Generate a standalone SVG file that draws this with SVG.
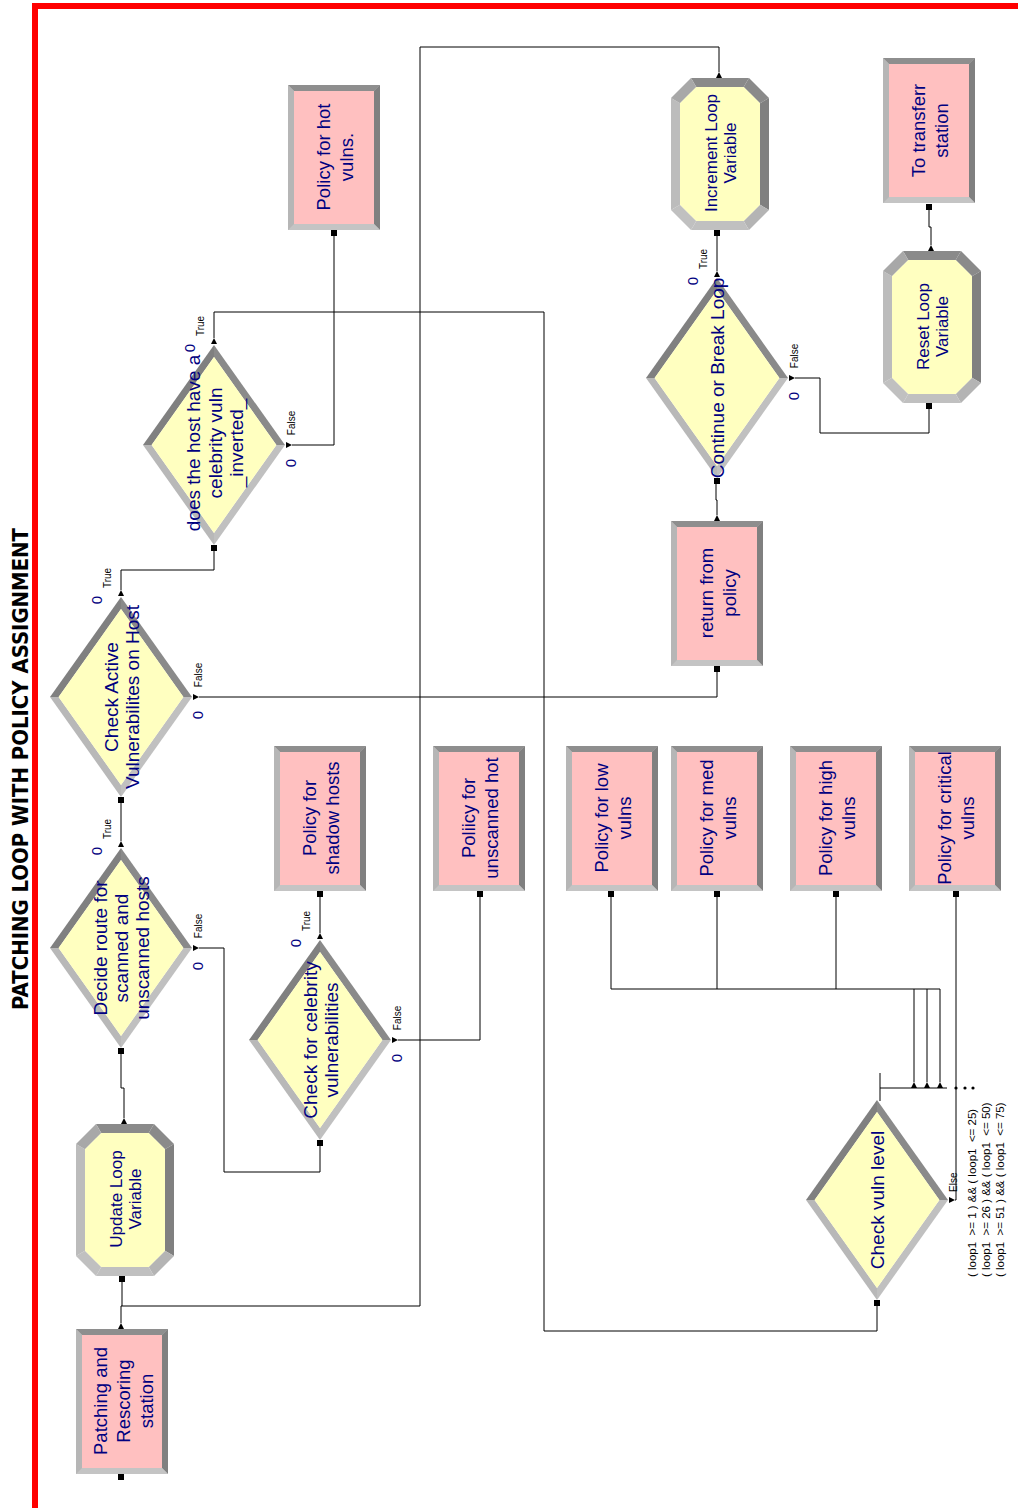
<svg xmlns="http://www.w3.org/2000/svg" width="1018" height="1508" viewBox="0 0 1018 1508">
<style>
.t{font-family:"Liberation Sans",Arial,sans-serif;fill:#000080;text-anchor:middle}
.r{font-size:18.5px}
.d{font-size:19px}
.o{font-size:17px}
.s{font-family:"Liberation Sans",Arial,sans-serif;font-size:10px;fill:#000;text-anchor:middle}
.z{font-family:"Liberation Sans",Arial,sans-serif;font-size:15px;fill:#000080;text-anchor:middle}
.c{font-family:"Liberation Sans",Arial,sans-serif;font-size:11.5px;fill:#000;text-anchor:start;white-space:pre}
.conn path{fill:none;stroke:#000;stroke-width:1}
.title{font-family:"DejaVu Sans",Verdana,sans-serif;font-weight:bold;font-size:21px;fill:#000;text-anchor:middle}
</style>
<defs>
<g id="rect">
<rect x="0" y="0" width="92" height="145" fill="#c0c0c0"/>
<polygon points="0,0 92,0 86,6 6,6" fill="#8e8e8e"/>
<polygon points="92,0 92,145 86,139 86,6" fill="#808080"/>
<polygon points="0,145 92,145 86,139 6,139" fill="#c4c4c4"/>
<polygon points="0,0 0,145 6,139 6,6" fill="#b6b6b6"/>
<rect x="6" y="6" width="80" height="133" fill="#ffc0c0"/>
</g>
<g id="oct">
<polygon points="20,0 78,0 72.7,9 25.3,9" fill="#8a8a8a"/>
<polygon points="78,0 98,20 89,25.3 72.7,9" fill="#8a8a8a"/>
<polygon points="98,20 98,132 89,126.7 89,25.3" fill="#808080"/>
<polygon points="98,132 78,152 72.7,143 89,126.7" fill="#b4b4b4"/>
<polygon points="78,152 20,152 25.3,143 72.7,143" fill="#c0c0c0"/>
<polygon points="20,152 0,132 9,126.7 25.3,143" fill="#c0c0c0"/>
<polygon points="0,132 0,20 9,25.3 9,126.7" fill="#bcbcbc"/>
<polygon points="0,20 20,0 25.3,9 9,25.3" fill="#a8a8a8"/>
<polygon points="25.3,9 72.7,9 89,25.3 89,126.7 72.7,143 25.3,143 9,126.7 9,25.3" fill="#ffffc0"/>
</g>
<g id="dia">
<polygon points="-71,0 0,-100 0,-87.9 -62.4,0" fill="#808080"/>
<polygon points="0,-100 71,0 62.4,0 0,-87.9" fill="#8a8a8a"/>
<polygon points="71,0 0,100 0,87.9 62.4,0" fill="#c0c0c0"/>
<polygon points="0,100 -71,0 -62.4,0 0,87.9" fill="#b8b8b8"/>
<polygon points="0,-87.9 62.4,0 0,87.9 -62.4,0" fill="#ffffc0"/>
</g>
<polygon id="tu" points="-3,0 3,0 0,-6" fill="#000"/>
<polygon id="tr" points="0,-3 0,3 6,0" fill="#000"/>
<rect id="sq" x="-3" y="-3" width="6" height="6" fill="#000"/>
</defs>

<path d="M35,1508 V6 H1018" fill="none" stroke="#ff0000" stroke-width="6"/>
<text class="title" transform="translate(28,769) rotate(-90)" textLength="482" lengthAdjust="spacingAndGlyphs">PATCHING LOOP WITH POLICY ASSIGNMENT</text>

<g class="conn" id="connectors">
<path d="M121,1323 V1306 H122 V1282"/>
<path d="M122,1306 H420 V47 H719 V72"/>
<path d="M124,1118 V1088 H121 V1054"/>
<path d="M121,841 V803"/>
<path d="M121,590 V570 H214 V551"/>
<path d="M199,697 H717 V672"/>
<path d="M199,948 H224 V1172 H320 V1146"/>
<path d="M320,933 V897"/>
<path d="M398,1040 H480 V897"/>
<path d="M214,338 V312 H544 V1331 H877 V1306"/>
<path d="M292,445 H334 V236"/>
<path d="M717,515 V500 H716 V484"/>
<path d="M717,271 V236"/>
<path d="M795,378 H820 V433 H929 V409"/>
<path d="M931,245 V227 H929 V210"/>
<path d="M880,1073 V1101"/>
<path d="M880,1088 H947"/>
<path d="M914,1082 V989 M927,1082 V989 M940,1082 V989"/>
<path d="M611,989 H940"/>
<path d="M611,897 V989 M717,897 V989 M836,897 V989"/>
<path d="M955,1200 H956 V897"/>
<circle cx="956" cy="1088" r="1.6" fill="#000"/>
<circle cx="965" cy="1088" r="1.6" fill="#000"/>
<circle cx="973" cy="1088" r="1.6" fill="#000"/>
<use href="#tu" x="914" y="1088"/>
<use href="#tu" x="927" y="1088"/>
<use href="#tu" x="940" y="1088"/>
</g>

<g id="patching">
<use href="#rect" x="76" y="1329"/>
<use href="#tu" x="121" y="1329"/>
<use href="#sq" x="121" y="1477"/>
<text class="t r" transform="translate(107,1401) rotate(-90)"><tspan x="0">Patching and</tspan><tspan x="0" dy="23">Rescoring</tspan><tspan x="0" dy="23">station</tspan></text>
</g>

<g id="update">
<use href="#oct" x="76" y="1124"/>
<use href="#tu" x="124" y="1124"/>
<use href="#sq" x="122" y="1279"/>
<text class="t o" transform="translate(122,1199) rotate(-90)"><tspan x="0">Update Loop</tspan><tspan x="0" dy="18.5">Variable</tspan></text>
</g>

<g id="decide-route">
<use href="#dia" x="121" y="948"/>
<use href="#tu" x="121" y="847"/>
<use href="#tr" x="193" y="948"/>
<use href="#sq" x="121" y="1051"/>
<text class="t d" transform="translate(107,948) rotate(-90)"><tspan x="0">Decide route for</tspan><tspan x="0" dy="21">scanned and</tspan><tspan x="0" dy="21">unscanned hosts</tspan></text>
<text class="s" transform="translate(111,829) rotate(-90)">True</text>
<text class="s" transform="translate(202,926) rotate(-90)">False</text>
<text class="z" transform="translate(102,851) rotate(-90)">0</text>
<text class="z" transform="translate(203,966) rotate(-90)">0</text>
</g>

<g id="check-active">
<use href="#dia" x="121" y="697"/>
<use href="#tu" x="121" y="596"/>
<use href="#tr" x="193" y="697"/>
<use href="#sq" x="121" y="800"/>
<text class="t d" transform="translate(117.5,697) rotate(-90)"><tspan x="0">Check Active</tspan><tspan x="0" dy="21">Vulnerabilites on Host</tspan></text>
<text class="s" transform="translate(111,578) rotate(-90)">True</text>
<text class="s" transform="translate(202,675) rotate(-90)">False</text>
<text class="z" transform="translate(102,600) rotate(-90)">0</text>
<text class="z" transform="translate(203,715) rotate(-90)">0</text>
</g>

<g id="does-host">
<use href="#dia" x="214" y="445"/>
<use href="#tu" x="214" y="344"/>
<use href="#tr" x="286" y="445"/>
<use href="#sq" x="214" y="548"/>
<text class="t d" transform="translate(200,443) rotate(-90)"><tspan x="0">does the host have a</tspan><tspan x="0" dy="21.5">celebrity vuln</tspan><tspan x="0" dy="21.5">_inverted_</tspan></text>
<text class="s" transform="translate(204,326) rotate(-90)">True</text>
<text class="s" transform="translate(295,423) rotate(-90)">False</text>
<text class="z" transform="translate(195,348) rotate(-90)">0</text>
<text class="z" transform="translate(296,463) rotate(-90)">0</text>
</g>

<g id="policy-hot">
<use href="#rect" x="288" y="85"/>
<use href="#sq" x="334" y="233"/>
<text class="t r" transform="translate(330,157) rotate(-90)"><tspan x="0">Policy for hot</tspan><tspan x="0" dy="23">vulns.</tspan></text>
</g>

<g id="check-celebrity">
<use href="#dia" x="320" y="1040"/>
<use href="#tu" x="320" y="939"/>
<use href="#tr" x="392" y="1040"/>
<use href="#sq" x="320" y="1143"/>
<text class="t d" transform="translate(316.5,1040) rotate(-90)"><tspan x="0">Check for celebrity</tspan><tspan x="0" dy="21">vulnerabilities</tspan></text>
<text class="s" transform="translate(310,921) rotate(-90)">True</text>
<text class="s" transform="translate(401,1018) rotate(-90)">False</text>
<text class="z" transform="translate(301,943) rotate(-90)">0</text>
<text class="z" transform="translate(402,1058) rotate(-90)">0</text>
</g>

<g id="policy-shadow">
<use href="#rect" x="274" y="746"/>
<use href="#sq" x="320" y="894"/>
<text class="t r" transform="translate(316,818) rotate(-90)"><tspan x="0">Policy for</tspan><tspan x="0" dy="23">shadow hosts</tspan></text>
</g>

<g id="policy-unscanned">
<use href="#rect" x="433" y="746"/>
<use href="#sq" x="480" y="894"/>
<text class="t r" transform="translate(475,818) rotate(-90)"><tspan x="0">Poliicy for</tspan><tspan x="0" dy="23">unscanned hot</tspan></text>
</g>

<g id="policy-low">
<use href="#rect" x="566" y="746"/>
<use href="#sq" x="611" y="894"/>
<text class="t r" transform="translate(608,818) rotate(-90)"><tspan x="0">Policy for low</tspan><tspan x="0" dy="23">vulns</tspan></text>
</g>

<g id="policy-med">
<use href="#rect" x="671" y="746"/>
<use href="#sq" x="717" y="894"/>
<text class="t r" transform="translate(713,818) rotate(-90)"><tspan x="0">Policy for med</tspan><tspan x="0" dy="23">vulns</tspan></text>
</g>

<g id="policy-high">
<use href="#rect" x="790" y="746"/>
<use href="#sq" x="836" y="894"/>
<text class="t r" transform="translate(832,818) rotate(-90)"><tspan x="0">Policy for high</tspan><tspan x="0" dy="23">vulns</tspan></text>
</g>

<g id="policy-critical">
<use href="#rect" x="909" y="746"/>
<use href="#sq" x="956" y="894"/>
<text class="t r" transform="translate(951,818) rotate(-90)"><tspan x="0">Policy for critical</tspan><tspan x="0" dy="23">vulns</tspan></text>
</g>

<g id="return-policy">
<use href="#rect" x="671" y="521"/>
<use href="#tu" x="717" y="521"/>
<use href="#sq" x="717" y="669"/>
<text class="t r" transform="translate(713,593) rotate(-90)"><tspan x="0">return from</tspan><tspan x="0" dy="23">policy</tspan></text>
</g>

<g id="continue-break">
<use href="#dia" x="717" y="378"/>
<use href="#tu" x="717" y="277"/>
<use href="#tr" x="789" y="378"/>
<use href="#sq" x="717" y="481"/>
<text class="t d" transform="translate(724,378) rotate(-90)">Continue or Break Loop</text>
<text class="s" transform="translate(707,259) rotate(-90)">True</text>
<text class="s" transform="translate(798,356) rotate(-90)">False</text>
<text class="z" transform="translate(698,281) rotate(-90)">0</text>
<text class="z" transform="translate(799,396) rotate(-90)">0</text>
</g>

<g id="increment">
<use href="#oct" x="671" y="78"/>
<use href="#tu" x="719" y="78"/>
<use href="#sq" x="717" y="233"/>
<text class="t o" transform="translate(717,153) rotate(-90)"><tspan x="0">Increment Loop</tspan><tspan x="0" dy="18.5">Variable</tspan></text>
</g>

<g id="to-transferr">
<use href="#rect" x="883" y="58"/>
<use href="#sq" x="929" y="207"/>
<text class="t r" transform="translate(925,130.5) rotate(-90)"><tspan x="0">To transferr</tspan><tspan x="0" dy="23">station</tspan></text>
</g>

<g id="reset">
<use href="#oct" x="883" y="251"/>
<use href="#tu" x="931" y="251"/>
<use href="#sq" x="929" y="406"/>
<text class="t o" transform="translate(929,326.5) rotate(-90)"><tspan x="0">Reset Loop</tspan><tspan x="0" dy="18.5">Variable</tspan></text>
</g>

<g id="check-vuln">
<use href="#dia" x="877" y="1200"/>
<use href="#tr" x="949" y="1200"/>
<use href="#sq" x="877" y="1303"/>
<text class="t d" transform="translate(884,1200) rotate(-90)">Check vuln level</text>
<text class="s" transform="translate(957,1192) rotate(-90)" style="text-anchor:start">Else</text>
<text class="c" transform="translate(976,1277) rotate(-90)">( loop1  &gt;= 1 ) &amp;&amp; ( loop1  &lt;= 25)</text>
<text class="c" transform="translate(990,1277) rotate(-90)">( loop1  &gt;= 26 ) &amp;&amp; ( loop1  &lt;= 50)</text>
<text class="c" transform="translate(1004,1277) rotate(-90)">( loop1  &gt;= 51 ) &amp;&amp; ( loop1  &lt;= 75)</text>
</g>
</svg>
